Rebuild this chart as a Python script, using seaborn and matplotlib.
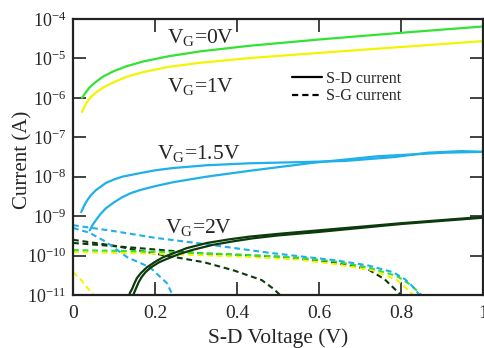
import numpy as np
import matplotlib
matplotlib.use("Agg")
import matplotlib.pyplot as plt
from matplotlib.lines import Line2D
import seaborn as sns

# S-D current (solid)
vg0_x = [0.022, 0.03, 0.04, 0.055, 0.075, 0.1, 0.13, 0.17, 0.23, 0.31, 0.43, 0.6, 0.8, 1.0]
vg0_sd = [1.0e-6, 1.32e-6, 1.82e-6, 2.51e-6, 3.55e-6, 4.79e-6, 6.31e-6, 8.32e-6, 1.12e-5, 1.51e-5,
          2.09e-5, 3.02e-5, 4.47e-5, 6.46e-5]

vg1_x = [0.022, 0.03, 0.04, 0.055, 0.075, 0.1, 0.13, 0.17, 0.23, 0.31, 0.43, 0.6, 0.8, 1.0]
vg1_sd = [4.37e-7, 6.61e-7, 9.55e-7, 1.35e-6, 1.86e-6, 2.51e-6, 3.39e-6, 4.47e-6, 6.03e-6, 7.76e-6,
          1.02e-5, 1.38e-5, 1.95e-5, 2.75e-5]

vg15a_x = [0.02, 0.026, 0.032, 0.042, 0.056, 0.08, 0.1, 0.12, 0.163, 0.2, 0.244, 0.325, 0.43, 0.55,
           0.663, 0.785, 0.866, 0.95, 1.0]
vg15a_sd = [1.26e-9, 1.74e-9, 2.29e-9, 3.24e-9, 4.57e-9, 6.92e-9, 8.51e-9, 1.0e-8, 1.23e-8, 1.45e-8,
            1.66e-8, 1.95e-8, 2.19e-8, 2.34e-8, 2.51e-8, 3.16e-8, 4.07e-8, 4.47e-8, 4.27e-8]
vg15b_x = [0.041, 0.048, 0.056, 0.066, 0.08, 0.1, 0.12, 0.14, 0.163, 0.2, 0.244, 0.325, 0.43, 0.583,
           0.744, 0.907, 1.0]
vg15b_sd = [4.37e-10, 6.03e-10, 7.94e-10, 1.10e-9, 1.58e-9, 2.24e-9, 3.02e-9, 3.80e-9, 4.57e-9, 5.75e-9,
            7.24e-9, 1.0e-8, 1.41e-8, 2.24e-8, 3.31e-8, 4.07e-8, 4.27e-8]

vg2a_x = [0.137, 0.14, 0.144, 0.15, 0.156, 0.165, 0.18, 0.2, 0.22, 0.25, 0.278, 0.327, 0.38, 0.43,
          0.5, 0.6, 0.8, 1.0]
vg2a_sd = [1.0e-11, 1.20e-11, 1.41e-11, 2.0e-11, 2.69e-11, 3.55e-11, 5.01e-11, 6.92e-11, 9.12e-11,
           1.20e-10, 1.55e-10, 2.09e-10, 2.57e-10, 3.02e-10, 3.55e-10, 4.37e-10, 6.61e-10, 9.55e-10]
vg2b_x = [0.147, 0.15, 0.155, 0.16, 0.167, 0.177, 0.19, 0.21, 0.23, 0.26, 0.29, 0.34, 0.39, 0.44,
          0.5, 0.6, 0.8, 1.0]
vg2b_sd = [1.0e-11, 1.20e-11, 1.58e-11, 2.09e-11, 2.82e-11, 3.80e-11, 5.01e-11, 6.76e-11, 8.32e-11,
           1.10e-10, 1.38e-10, 1.86e-10, 2.29e-10, 2.75e-10, 3.24e-10, 3.98e-10, 6.31e-10, 9.12e-10]

# S-G current (dashed)
vg0_sg_x = [0, 0.2, 0.4, 0.55, 0.64, 0.72, 0.79, 0.82, 0.84, 0.85]
vg0_sg = [1.38e-10, 1.26e-10, 1.07e-10, 8.91e-11, 7.08e-11, 5.01e-11, 3.02e-11, 1.91e-11, 1.26e-11, 1.0e-11]

vg1a_sg_x = [0, 0.2, 0.4, 0.55, 0.64, 0.73, 0.79, 0.815, 0.83]
vg1a_sg = [1.23e-10, 1.12e-10, 9.55e-11, 7.94e-11, 6.03e-11, 4.27e-11, 2.40e-11, 1.41e-11, 1.0e-11]
vg1b_sg_x = [0, 0.02, 0.04, 0.05]
vg1b_sg = [3.80e-11, 2.40e-11, 1.32e-11, 1.0e-11]

vg15a_sg_x = [0, 0.1, 0.2, 0.33, 0.48, 0.64, 0.72, 0.78, 0.81, 0.83, 0.845]
vg15a_sg = [5.89e-10, 4.17e-10, 2.82e-10, 1.91e-10, 1.17e-10, 7.59e-11, 5.62e-11, 3.80e-11, 2.51e-11, 1.58e-11, 1.0e-11]
vg15b_sg_x = [0, 0.04, 0.08, 0.132, 0.188, 0.229, 0.243]
vg15b_sg = [5.01e-10, 3.80e-10, 2.24e-10, 9.12e-11, 5.01e-11, 2.0e-11, 1.0e-11]

vg2a_sg_x = [0, 0.15, 0.32, 0.5, 0.64, 0.72, 0.76, 0.785, 0.80]
vg2a_sg = [2.09e-10, 1.58e-10, 1.12e-10, 9.33e-11, 6.61e-11, 4.47e-11, 2.51e-11, 1.41e-11, 1.0e-11]
vg2b_sg_x = [0, 0.1, 0.2, 0.32, 0.39, 0.46, 0.49, 0.505]
vg2b_sg = [2.51e-10, 1.78e-10, 1.12e-10, 6.76e-11, 4.27e-11, 2.40e-11, 1.41e-11, 1.0e-11]

x_ticks = [0, 0.2, 0.4, 0.6, 0.8, 1]
x_ticklabels = ["0", "0.2", "0.4", "0.6", "0.8", "1"]
y_exps = [-11, -10, -9, -8, -7, -6, -5, -4]

c_green = "#33e233"
c_yellow = "#f4f400"
c_blue = "#1fb0ea"
c_dark = "#0c3a0c"

sns.set_style("ticks")
plt.rcParams["font.family"] = ["Liberation Serif", "DejaVu Serif"]
plt.rcParams["mathtext.fontset"] = "custom"
plt.rcParams["mathtext.rm"] = "Liberation Serif"
plt.rcParams["mathtext.it"] = "Liberation Serif:italic"

fig = plt.figure(figsize=(4.85, 3.48), dpi=100)
ax = fig.add_axes([73 / 485, 53 / 348, 410 / 485, 276 / 348])

dash = (0, (2.8, 1.8))
sg_series = [
    (vg2a_sg_x, vg2a_sg, c_dark), (vg2b_sg_x, vg2b_sg, c_dark),
    (vg1a_sg_x, vg1a_sg, c_yellow), (vg1b_sg_x, vg1b_sg, c_yellow),
    (vg0_sg_x, vg0_sg, c_green),
    (vg15a_sg_x, vg15a_sg, c_blue), (vg15b_sg_x, vg15b_sg, c_blue),
]
for xs, ys, c in sg_series:
    sns.lineplot(x=xs, y=ys, color=c, linewidth=1.5, linestyle=dash, sort=False,
                 estimator=None, ax=ax)

sd_series = [
    (vg0_x, vg0_sd, c_green), (vg1_x, vg1_sd, c_yellow),
    (vg15a_x, vg15a_sd, c_blue), (vg15b_x, vg15b_sd, c_blue),
    (vg2a_x, vg2a_sd, c_dark), (vg2b_x, vg2b_sd, c_dark),
]
for xs, ys, c in sd_series:
    sns.lineplot(x=xs, y=ys, color=c, linewidth=1.6, sort=False, estimator=None, ax=ax)

ax.set_yscale("log")
ax.set_xlim(0, 1)
ax.set_ylim(1e-11, 1e-4)
ax.set_xticks(x_ticks)
ax.set_xticklabels(x_ticklabels)
ax.set_yticks([10.0 ** e for e in y_exps])
ax.set_yticklabels([r"10$^{%d}$" % e for e in y_exps])
ax.yaxis.set_minor_locator(matplotlib.ticker.NullLocator())

ax.tick_params(direction="in", length=9.5, width=1.2, top=True, right=True,
               color="#222222")
ax.tick_params(axis="x", pad=7, labelsize=14)
ax.tick_params(axis="y", pad=5, labelsize=13)
for sp in ax.spines.values():
    sp.set_linewidth(1.6)
    sp.set_color("#222222")

ax.set_xlabel("S-D Voltage (V)", fontsize=15.5)
ax.set_ylabel("Current (A)", fontsize=15)
ax.xaxis.set_label_coords(0.5, -0.122)
ax.yaxis.set_label_coords(-0.1, 0.49)

txt_kw = dict(fontsize=15.5, ha="left", va="baseline")
ax.text(0.229, 10 ** -4.61, r"V$_\mathrm{G}$=0V", **txt_kw)
ax.text(0.229, 10 ** -5.85, r"V$_\mathrm{G}$=1V", **txt_kw)
ax.text(0.205, 10 ** -7.55, r"V$_\mathrm{G}$=1.5V", **txt_kw)
ax.text(0.224, 10 ** -9.43, r"V$_\mathrm{G}$=2V", **txt_kw)

handles = [Line2D([], [], color="black", linewidth=1.6),
           Line2D([], [], color="black", linewidth=1.6, linestyle=(0, (2.8, 1.8)))]
ax.legend(handles, ["S-D current", "S-G current"], loc="center left",
          bbox_to_anchor=(0.534, 0.752), frameon=False, fontsize=11.5,
          handlelength=1.9, handletextpad=0.25, labelspacing=0.1,
          borderpad=0, borderaxespad=0)

fig.savefig("out.png", dpi=100)
